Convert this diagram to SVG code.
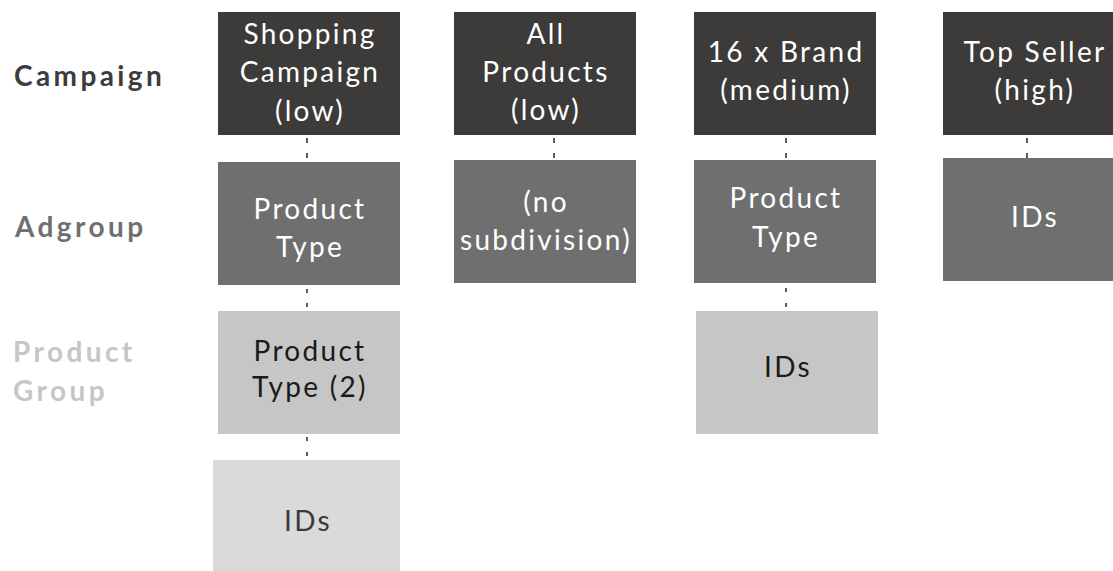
<svg xmlns="http://www.w3.org/2000/svg" width="1113" height="571" viewBox="0 0 1113 571">
<style>
text{font-family:Lato,"Open Sans","Liberation Sans",sans-serif;text-anchor:middle}
.t{font-size:28px;letter-spacing:2.3px}
.w{fill:#ffffff}
.k{fill:#1a1a1a}
.g{fill:#3a3a3a}
.lbl{font-size:28px;font-weight:700;letter-spacing:3.4px;text-anchor:start}
.dark{fill:#3c3b39}
.mid{fill:#6f6f6f}
.light{fill:#c6c6c6}
.pale{fill:#dadada}
.c{stroke:#333333;stroke-width:1.6;fill:none}
</style>
<rect width="1113" height="571" fill="#ffffff"/>
<g id="labels">
<text class="lbl" x="14" y="86" fill="#3c3c3c">Campaign</text>
<text class="lbl" x="15" y="237" fill="#707070">Adgroup</text>
<text class="lbl" x="13" y="362" fill="#c6c6c6">Product</text>
<text class="lbl" x="13" y="401" fill="#c6c6c6">Group</text>
</g>
<g id="connectors">
<line class="c" x1="307" y1="138" x2="307" y2="158" stroke-dasharray="5 10"/>
<line class="c" x1="307" y1="289" x2="307" y2="307" stroke-dasharray="4 10"/>
<line class="c" x1="307" y1="437" x2="307" y2="456" stroke-dasharray="4 11"/>
<line class="c" x1="554" y1="138" x2="554" y2="158" stroke-dasharray="5 10"/>
<line class="c" x1="786" y1="138" x2="786" y2="158" stroke-dasharray="5 10"/>
<line class="c" x1="786" y1="288" x2="786" y2="307" stroke-dasharray="4 11"/>
<line class="c" x1="1027" y1="138" x2="1027" y2="158" stroke-dasharray="5 10"/>
</g>
<g id="n-shopping">
<rect class="dark" x="218" y="12" width="182" height="123"/>
<text class="t w" x="310" y="44">Shopping</text>
<text class="t w" x="310" y="82">Campaign</text>
<text class="t w" x="310" y="121">(low)</text>
</g>
<g id="n-all">
<rect class="dark" x="454" y="12" width="182" height="123"/>
<text class="t w" x="546" y="44">All</text>
<text class="t w" x="546" y="82">Products</text>
<text class="t w" x="546" y="120">(low)</text>
</g>
<g id="n-brand">
<rect class="dark" x="694" y="12" width="182" height="123"/>
<text class="t w" x="786" y="62">16 x Brand</text>
<text class="t w" x="786" y="100">(medium)</text>
</g>
<g id="n-top">
<rect class="dark" x="943" y="12" width="182" height="123"/>
<text class="t w" x="1035" y="62">Top Seller</text>
<text class="t w" x="1035" y="100">(high)</text>
</g>
<g id="n-pt1">
<rect class="mid" x="218" y="162" width="182" height="123"/>
<text class="t w" x="310" y="219">Product</text>
<text class="t w" x="310" y="257">Type</text>
</g>
<g id="n-nosub">
<rect class="mid" x="454" y="160" width="182" height="123"/>
<text class="t w" x="546" y="212">(no</text>
<text class="t w" x="546" y="250">subdivision)</text>
</g>
<g id="n-pt3">
<rect class="mid" x="694" y="160" width="182" height="123"/>
<text class="t w" x="786" y="208">Product</text>
<text class="t w" x="786" y="247">Type</text>
</g>
<g id="n-ids4">
<rect class="mid" x="943" y="158" width="182" height="123"/>
<text class="t w" x="1035" y="227">IDs</text>
</g>
<g id="n-pt2">
<rect class="light" x="218" y="311" width="182" height="123"/>
<text class="t k" x="310" y="361">Product</text>
<text class="t k" x="310" y="397">Type (2)</text>
</g>
<g id="n-ids3">
<rect class="light" x="696" y="311" width="182" height="123"/>
<text class="t k" x="788" y="377">IDs</text>
</g>
<g id="n-ids1">
<rect class="pale" x="213" y="460" width="187" height="123"/>
<text class="t g" x="308" y="531">IDs</text>
</g>
</svg>
